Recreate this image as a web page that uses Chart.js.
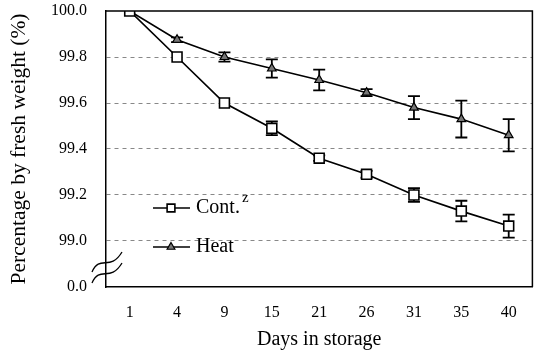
<!DOCTYPE html>
<html>
<head>
<meta charset="utf-8">
<script src="https://cdn.jsdelivr.net/npm/chart.js@4"></script>
<style>
  html, body { margin: 0; padding: 0; background: #fff; }
  #wrap { width: 541px; height: 354px; }
</style>
</head>
<body>
<div id="wrap"><canvas id="chart" width="541" height="354"></canvas></div>
<script>
// Days in storage
const days = ["1", "4", "9", "15", "21", "26", "31", "35", "40"];

// Control
const contValues = [100.0, 99.80, 99.60, 99.49, 99.36, 99.29, 99.20, 99.13, 99.065];
const contErrors = [0, 0, 0, 0.03, 0.012, 0.015, 0.03, 0.045, 0.05];

// Heat treated
const heatValues = [100.0, 99.875, 99.80, 99.75, 99.70, 99.645, 99.58, 99.53, 99.46];
const heatErrors = [0, 0.01, 0.02, 0.04, 0.045, 0.015, 0.05, 0.08, 0.07];

// y axis: bottom tick stands for 0.0 (broken axis)
const yMin = 98.8;
const yMax = 100.0;
const yStep = 0.2;

const serif = "'Liberation Serif', 'Times New Roman', serif";

// Error bars
const errorBars = {
    id: "errorBars",
    beforeDatasetsDraw(chart) {
        const ctx = chart.ctx;
        const y = chart.scales.y;
        const errs = [contErrors, heatErrors];
        ctx.save();
        ctx.strokeStyle = "#000";
        ctx.lineWidth = 1.8;
        chart.data.datasets.forEach((ds, i) => {
            const meta = chart.getDatasetMeta(i);
            meta.data.forEach((pt, j) => {
                const e = errs[i][j];
                if (!e) return;
                const top = y.getPixelForValue(ds.data[j] + e);
                const bot = y.getPixelForValue(ds.data[j] - e);
                ctx.beginPath();
                ctx.moveTo(pt.x, top); ctx.lineTo(pt.x, bot);
                ctx.moveTo(pt.x - 6, top); ctx.lineTo(pt.x + 6, top);
                ctx.moveTo(pt.x - 6, bot); ctx.lineTo(pt.x + 6, bot);
                ctx.stroke();
            });
        });
        ctx.restore();
    }
};

// Box, axis break and legend
const extras = {
    id: "extras",
    afterDraw(chart) {
        const ctx = chart.ctx;
        const a = chart.chartArea;
        ctx.save();
        // top and right border
        ctx.strokeStyle = "#000";
        ctx.lineWidth = 1.5;
        ctx.beginPath();
        ctx.moveTo(a.left, a.top);
        ctx.lineTo(a.right, a.top);
        ctx.lineTo(a.right, a.bottom);
        ctx.stroke();

        // axis break marks
        ctx.lineWidth = 1.3;
        [262, 273].forEach(yy => {
            ctx.beginPath();
            ctx.moveTo(a.left - 14, yy + 10);
            ctx.bezierCurveTo(a.left - 6, yy - 8, a.left + 4, yy + 10, a.left + 16, yy - 10);
            ctx.stroke();
        });

        // legend
        const items = [
            { label: "Cont.", sup: "z", y: 208, ds: 0 },
            { label: "Heat", sup: "", y: 247, ds: 1 }
        ];
        items.forEach(it => {
            const ds = chart.data.datasets[it.ds];
            ctx.strokeStyle = "#000";
            ctx.lineWidth = 1.6;
            ctx.beginPath();
            ctx.moveTo(153, it.y);
            ctx.lineTo(190, it.y);
            ctx.stroke();
            ctx.fillStyle = ds.pointBackgroundColor;
            ctx.lineWidth = ds.pointBorderWidth;
            Chart.helpers.drawPoint(ctx, {
                pointStyle: ds.pointStyle,
                radius: it.ds === 0 ? 5.5 : 4.5,
                borderWidth: ds.pointBorderWidth
            }, 171, it.y);
            ctx.fillStyle = "#000";
            ctx.font = "20px " + serif;
            ctx.textBaseline = "middle";
            ctx.fillText(it.label, 196, it.y);
            if (it.sup) {
                const w = ctx.measureText(it.label).width;
                ctx.font = "15px " + serif;
                ctx.fillText(it.sup, 196 + w + 2, it.y - 10);
            }
        });
        ctx.restore();
    }
};

new Chart(document.getElementById("chart"), {
    type: "line",
    data: {
        labels: days,
        datasets: [
            {
                label: "Cont.",
                data: contValues,
                borderColor: "#000",
                borderWidth: 1.7,
                tension: 0,
                pointStyle: "rect",
                pointRadius: 7,
                pointBackgroundColor: "#fff",
                pointBorderColor: "#000",
                pointBorderWidth: 1.6
            },
            {
                label: "Heat",
                data: heatValues,
                borderColor: "#000",
                borderWidth: 1.6,
                tension: 0,
                pointStyle: "triangle",
                pointRadius: 5,
                pointBackgroundColor: "#777",
                pointBorderColor: "#000",
                pointBorderWidth: 1.2
            }
        ]
    },
    options: {
        responsive: false,
        animation: false,
        layout: { padding: { top: 11, right: 4, left: 0, bottom: 0 } },
        plugins: {
            legend: { display: false },
            tooltip: { enabled: false }
        },
        scales: {
            x: {
                offset: true,
                afterFit(s) { s.height = 67; s.paddingLeft = 0; s.paddingRight = 0; },
                grid: { display: false, drawTicks: false },
                border: { display: true, color: "#000", width: 1.5 },
                ticks: { color: "#000", padding: 16, font: { family: serif, size: 16 } },
                title: {
                    display: true,
                    text: "Days in storage",
                    color: "#000",
                    padding: { top: 4, bottom: 2 },
                    font: { family: serif, size: 20 }
                }
            },
            y: {
                min: yMin,
                max: yMax,
                afterFit(s) { s.width = 106; s.paddingTop = 0; s.paddingBottom = 0; },
                ticks: {
                    stepSize: yStep,
                    color: "#000",
                    padding: 19,
                    font: { family: serif, size: 16 },
                    callback: v => Math.abs(v - yMin) < 1e-6 ? "0.0" : v.toFixed(1)
                },
                grid: {
                    drawTicks: false,
                    color: c => {
                        const v = c.tick ? c.tick.value : null;
                        if (v === null || Math.abs(v - yMin) < 1e-6 || Math.abs(v - yMax) < 1e-6) return "rgba(0,0,0,0)";
                        return "#888";
                    },
                    lineWidth: 1
                },
                border: { display: true, color: "#000", width: 1.5, dash: [4, 4] },
                title: {
                    display: true,
                    text: "Percentage by fresh weight (%)",
                    color: "#000",
                    padding: { top: 6, bottom: 0 },
                    font: { family: serif, size: 21.5 }
                }
            }
        }
    },
    plugins: [errorBars, extras]
});
</script>
</body>
</html>
